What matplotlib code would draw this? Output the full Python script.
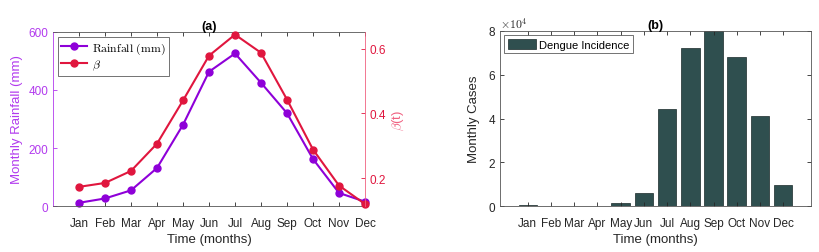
import matplotlib
matplotlib.use("Agg")
import matplotlib.pyplot as plt
import numpy as np

plt.rcParams['font.family'] = ['Liberation Sans', 'DejaVu Sans']
plt.rcParams['mathtext.fontset'] = 'cm'

months = ["Jan", "Feb", "Mar", "Apr", "May", "Jun", "Jul", "Aug", "Sep", "Oct", "Nov", "Dec"]
rainfall = [11, 26, 54, 131, 280, 463, 526, 425, 320, 162, 45, 15]
beta = [0.174, 0.186, 0.223, 0.307, 0.440, 0.578, 0.643, 0.587, 0.443, 0.289, 0.178, 0.121]
dengue = [500, 0, 0, 0, 1200, 6000, 44400, 72400, 80000, 68100, 41000, 9600]

x = np.arange(1, len(months) + 1)

purple = '#8E00D8'
purple_txt = '#B23AEE'
red = '#E0163E'
red_lbl = '#F06080'
bar_c = '#2F4F4F'
tick_c = '#262626'

fig = plt.figure(figsize=(8.2, 2.53), dpi=100)
W, H = 820, 253

def ax_rect(x0, y0, x1, y1):
    return [x0 / W, 1 - y1 / H, (x1 - x0) / W, (y1 - y0) / H]

# ---- (a)
ax1 = fig.add_axes(ax_rect(53, 33, 365, 207))
l1, = ax1.plot(x, rainfall, '-o', color=purple, lw=1.5, ms=5, label=r'$\mathrm{Rainfall\ (mm)}$')
ax1.set_xlim(0, 12)
ax1.set_ylim(0, 600)
ax1.set_yticks([0, 200, 400, 600])
ax1.set_xticks(x)
ax1.set_xticklabels(months)
ax1.tick_params(axis='x', direction='in', top=True, length=3, colors=tick_c, labelsize=8.5, width=0.6, pad=8)
ax1.tick_params(axis='y', direction='in', length=3, colors=purple_txt, labelsize=8.5, width=0.6)
ax1.set_ylabel('Monthly Rainfall (mm)', color=purple_txt, fontsize=9.5, labelpad=4)
ax1.set_xlabel('Time (months)', color=tick_c, fontsize=9.5, labelpad=3)
ax1.set_title('(a)', fontweight='bold', fontsize=9, pad=2)
for s in ['top', 'bottom']:
    ax1.spines[s].set_color('#555555')
    ax1.spines[s].set_linewidth(0.6)
ax1.spines['left'].set_color(purple_txt)
ax1.spines['left'].set_linewidth(0.6)
ax1.spines['right'].set_visible(False)

ax2 = ax1.twinx()
l2, = ax2.plot(x, beta, '-o', color=red, lw=1.5, ms=5, label=r'$\beta$', clip_on=False)
ax2.set_ylim(0.115, 0.651)
ax2.set_yticks([0.2, 0.4, 0.6])
ax2.tick_params(axis='y', direction='in', length=3, colors=red, labelsize=8.5, width=0.6)
ax2.set_ylabel(r'$\beta$(t)', color=red_lbl, fontsize=9.5, labelpad=3)
ax2.spines['right'].set_color(red_lbl)
ax2.spines['right'].set_linewidth(0.6)
for s in ['top', 'bottom', 'left']:
    ax2.spines[s].set_visible(False)
l1.set_clip_on(False)

leg = ax1.legend(handles=[l1, l2], loc='upper left', fontsize=8.5, frameon=True,
                 fancybox=False, edgecolor='#333333', borderpad=0.3, labelspacing=0.2,
                 handlelength=2.2, handletextpad=0.4, borderaxespad=0.4)
leg.get_frame().set_linewidth(0.6)

# ---- (b)
ax3 = fig.add_axes(ax_rect(500, 32, 811, 207))
ax3.bar(x, np.array(dengue) / 1e4, width=0.8, color=bar_c, edgecolor='#1a2a2a', linewidth=0.5,
        label='Dengue Incidence')
ax3.set_xlim(-0.2, 13.2)
ax3.set_ylim(0, 8)
ax3.set_yticks([0, 2, 4, 6, 8])
ax3.set_xticks(x)
ax3.set_xticklabels(months)
ax3.tick_params(axis='both', direction='in', top=True, right=True, length=3, colors=tick_c,
                labelsize=8.5, width=0.6)
ax3.tick_params(axis='x', pad=8)
ax3.set_ylabel('Monthly Cases', color=tick_c, fontsize=9.5, labelpad=6)
ax3.set_xlabel('Time (months)', color=tick_c, fontsize=9.5, labelpad=3)
ax3.set_title('(b)', fontweight='bold', fontsize=9, pad=2)
ax3.text(0.0, 1.0, r'$\times10^{4}$', transform=ax3.transAxes, fontsize=8.5, color=tick_c,
         ha='left', va='bottom', family='DejaVu Sans')
for s in ax3.spines.values():
    s.set_color('#555555')
    s.set_linewidth(0.6)
leg2 = ax3.legend(loc='upper left', fontsize=8, frameon=True, fancybox=False, edgecolor='#333333',
                  borderpad=0.3, handlelength=2.5, handleheight=1.0, handletextpad=0.3, borderaxespad=0.4)
leg2.get_frame().set_linewidth(0.6)

fig.savefig('out.png', dpi=100)
